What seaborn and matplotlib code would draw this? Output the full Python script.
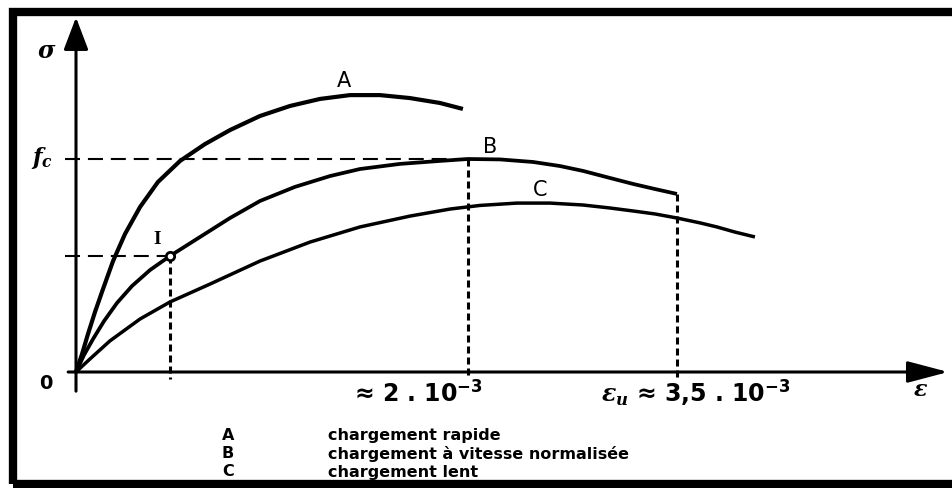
import numpy as np
import pandas as pd
import seaborn as sns
import matplotlib
matplotlib.use("Agg")
import matplotlib.pyplot as plt
from matplotlib.patches import Rectangle

# ---------------- data (schematic units: strain in 1e-3, stress relative to f_c) ----
strain_A = [0, 0.031, 0.061, 0.097, 0.138, 0.189, 0.250, 0.327, 0.418, 0.531, 0.658,
            0.786, 0.939, 1.092, 1.245, 1.398, 1.551, 1.704, 1.857, 1.974]
stress_A = [0, 0.085, 0.178, 0.282, 0.390, 0.521, 0.648, 0.775, 0.892, 0.991, 1.070,
            1.136, 1.202, 1.249, 1.282, 1.300, 1.300, 1.286, 1.263, 1.235]

strain_B = [0, 0.041, 0.087, 0.143, 0.209, 0.286, 0.378, 0.480, 0.633, 0.786, 0.939,
            1.117, 1.296, 1.449, 1.653, 1.857, 2.0, 2.163, 2.332, 2.469, 2.587,
            2.724, 2.842, 2.954, 3.066]
stress_B = [0, 0.080, 0.155, 0.239, 0.324, 0.404, 0.479, 0.545, 0.634, 0.723, 0.803,
            0.869, 0.920, 0.953, 0.977, 0.991, 1.000, 0.998, 0.986, 0.967, 0.944,
            0.911, 0.883, 0.859, 0.836]

strain_C = [0, 0.071, 0.173, 0.327, 0.480, 0.684, 0.939, 1.194, 1.449, 1.704, 1.908,
            2.061, 2.250, 2.418, 2.587, 2.724, 2.842, 2.954, 3.066, 3.184, 3.270,
            3.362, 3.464]
stress_C = [0, 0.061, 0.146, 0.249, 0.329, 0.413, 0.521, 0.610, 0.681, 0.732, 0.765,
            0.782, 0.793, 0.793, 0.784, 0.770, 0.756, 0.742, 0.723, 0.700, 0.681,
            0.657, 0.634]

curve_names = ["A", "B", "C"]
I_index = 7                      # point I on curve B (limit of linearity)
fc_value = max(stress_B)         # f_c = peak of curve B

legend_letters = ["A", "B", "C"]
legend_texts = ["chargement rapide",
                "chargement à vitesse normalisée",
                "chargement lent"]
label_eps_peak = "≈ 2 . $10^{-3}$"
label_eps_u = "$\\varepsilon_u$ ≈ 3,5 . $10^{-3}$"

# ---------------- figure setup ----------------
W, H = 952, 489
sns.set_theme(style="white")
plt.rcParams["font.family"] = ["DejaVu Sans"]
plt.rcParams["text.color"] = "black"
plt.rcParams["mathtext.fontset"] = "custom"
plt.rcParams["mathtext.rm"] = "DejaVu Sans:bold"
plt.rcParams["mathtext.it"] = "DejaVu Serif:italic:bold"
plt.rcParams["mathtext.bf"] = "DejaVu Sans:bold"

fig = plt.figure(figsize=(W / 100, H / 100), dpi=100)
fig.patch.set_facecolor("white")
ax = fig.add_axes([0, 0, 1, 1])
ax.set_xlim(-76 / 196, (W - 76) / 196)
ax.set_ylim(-(H - 373) / 213, 373 / 213)
ax.axis("off")

def F(px, py):
    return px / W, 1 - py / H

# frame (left, top, bottom visible)
fig.add_artist(Rectangle(F(13, 485), (975 - 13) / W, (485 - 13) / H,
                         transform=fig.transFigure, fill=False,
                         edgecolor="black", lw=6.0, clip_on=False))

# axes with arrows
ax.annotate("", xy=(0, 1.665), xytext=(0, -0.09),
            arrowprops=dict(arrowstyle="-|>,head_length=1.0,head_width=0.38",
                            mutation_scale=20, lw=2.2, color="black",
                            shrinkA=0, shrinkB=0))
ax.annotate("", xy=(4.45, 0), xytext=(-0.04, 0),
            arrowprops=dict(arrowstyle="-|>,head_length=1.25,head_width=0.33",
                            mutation_scale=20, lw=2.2, color="black",
                            shrinkA=0, shrinkB=0))

# curves
df = pd.concat([
    pd.DataFrame({"strain": strain_A, "stress": stress_A, "curve": "A"}),
    pd.DataFrame({"strain": strain_B, "stress": stress_B, "curve": "B"}),
    pd.DataFrame({"strain": strain_C, "stress": stress_C, "curve": "C"}),
], ignore_index=True)
widths = {"A": 3.0, "B": 2.7, "C": 2.5}
for name in curve_names:
    sub = df[df["curve"] == name]
    sns.lineplot(data=sub, x="strain", y="stress", color="black", sort=False,
                 estimator=None, lw=widths[name], ax=ax, legend=False,
                 solid_capstyle="butt", solid_joinstyle="round")

# construction lines
iB_peak = int(np.argmax(stress_B))
xI, yI = strain_B[I_index], stress_B[I_index]
xP, yP = strain_B[iB_peak], fc_value
xE, yE = strain_B[-1], stress_B[-1]

hd = dict(color="black", lw=1.5, dashes=(7.2, 3.8))
vd = dict(color="black", lw=2.2, dashes=(2.3, 1.3))
ax.plot([-0.055, xP], [yP, yP], **hd)
ax.plot([-0.055, xI], [yI, yI], **hd)
for xv, yv in [(xI, yI), (xP, yP), (xE, yE)]:
    ax.plot([xv, xv], [yv, -0.035], **vd)

ax.plot([xI], [yI], marker="o", ms=6, mfc="white", mec="black", mew=2, zorder=5)

# labels on the figure
fig.text(*F(47, 51), "$\\sigma$", fontsize=17, ha="center", va="center")
fig.text(*F(42, 158), "$f_c$", fontsize=16, ha="center", va="center")
fig.text(*F(46, 384), "0", fontsize=14, weight="bold", ha="center", va="center")
fig.text(*F(921, 390), "$\\varepsilon$", fontsize=16, ha="center", va="center")
fig.text(*F(157, 240), "I", family="Liberation Serif", weight="bold",
         fontsize=14, ha="center", va="center")
for lab, (px, py) in zip(curve_names, [(344, 81), (490, 147), (540, 190)]):
    fig.text(*F(px, py), lab, fontsize=15, ha="center", va="center")

fig.text(*F(418, 393), label_eps_peak, fontsize=17, weight="bold",
         ha="center", va="center")
fig.text(*F(696, 393), label_eps_u, fontsize=17, weight="bold",
         ha="center", va="center")

for i, (let, txt) in enumerate(zip(legend_letters, legend_texts)):
    py = 436 + 18 * i
    fig.text(*F(228, py), let, fontsize=11.5, weight="bold", ha="center", va="center")
    fig.text(*F(328, py), txt, fontsize=11.5, weight="bold", ha="left", va="center")

fig.savefig("out.png", dpi=100, facecolor="white")
